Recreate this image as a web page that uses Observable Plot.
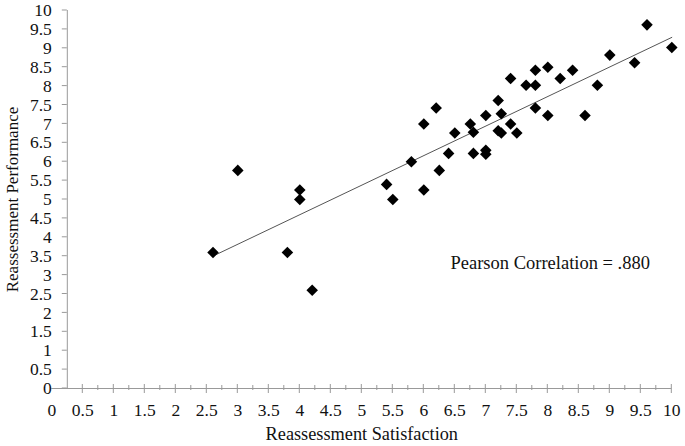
<!DOCTYPE html>
<html>
<head>
<meta charset="utf-8">
<script src="https://cdn.jsdelivr.net/npm/d3@7"></script>
<script src="https://cdn.jsdelivr.net/npm/@observablehq/plot@0.6"></script>
<style>
  html, body { margin: 0; padding: 0; background: #fff; }
  #chart svg, #chart svg text { font-family: "Liberation Serif", "Times New Roman", Tinos, "DejaVu Serif", serif !important; }
</style>
</head>
<body>
<div id="chart"></div>
<script>
const satisfaction = [2.6, 3.0, 3.8, 4.0, 4.0, 4.2, 5.4, 5.5, 5.8, 6.0, 6.0, 6.2, 6.25, 6.4, 6.5,
  6.75, 6.8, 6.8, 7.0, 7.0, 7.0, 7.2, 7.25, 7.2, 7.25, 7.4, 7.4, 7.5, 7.65, 7.8, 7.8, 7.8,
  8.0, 8.0, 8.2, 8.4, 8.6, 8.8, 9.0, 9.4, 9.6, 10.0];
const performance = [3.6, 5.77, 3.6, 5.25, 5.0, 2.6, 5.4, 5.0, 6.0, 5.25, 7.0, 7.42, 5.77, 6.22, 6.76,
  7.0, 6.78, 6.22, 7.22, 6.3, 6.2, 7.62, 7.27, 6.82, 6.76, 7.0, 8.2, 6.76, 8.02, 8.02, 8.42, 7.42,
  8.5, 7.22, 8.2, 8.42, 7.22, 8.02, 8.82, 8.62, 9.62, 9.02];

const xTickLabels = [0, 0.5, 1, 1.5, 2, 2.5, 3, 3.5, 4, 4.5, 5, 5.5, 6, 6.5, 7, 7.5, 8, 8.5, 9, 9.5, 10];
const xMajorTicks = [0.5, 1, 1.5, 2, 2.5, 3, 3.5, 4, 4.5, 5, 5.5, 6, 6.5, 7, 7.5, 8, 8.5, 9, 9.5, 10];
const xMinorTicks = [0.75, 1.25, 1.75, 2.25, 2.75, 3.25, 3.75, 4.25, 4.75, 5.25, 5.75, 6.25, 6.75, 7.25, 7.75, 8.25, 8.75, 9.25, 9.75];
const yTickLabels = [0, 0.5, 1, 1.5, 2, 2.5, 3, 3.5, 4, 4.5, 5, 5.5, 6, 6.5, 7, 7.5, 8, 8.5, 9, 9.5, 10];
const yAxisAt = 0.25;
const annotation = {text: "Pearson Correlation = .880", x: 6.43, y: 3.33};

const points = satisfaction.map((x, i) => ({x, y: performance[i]}));
const axisColor = "#999";
const textColor = "#111";
const serif = "'Liberation Serif', 'Times New Roman', Tinos, 'DejaVu Serif', serif";

function tickRenderer(orient, before, after) {
  return (index, scales, values) => {
    const g = d3.create("svg:g").attr("stroke", axisColor).attr("stroke-width", 1);
    for (const i of index) {
      if (orient === "y") {
        const yy = values.y[i], xx = scales.x(yAxisAt);
        g.append("line").attr("x1", xx - before).attr("x2", xx + after).attr("y1", yy).attr("y2", yy);
      } else {
        const xx = values.x[i], yy = scales.y(0);
        g.append("line").attr("x1", xx).attr("x2", xx).attr("y1", yy - before).attr("y2", yy + after);
      }
    }
    return g.node();
  };
}

const chart = Plot.plot({
  width: 685,
  height: 446,
  marginLeft: 51.3,
  marginRight: 13.7,
  marginTop: 10,
  marginBottom: 58,
  style: {background: "#fff", fontFamily: serif},
  x: {type: "linear", domain: [0, 10], axis: null},
  y: {type: "linear", domain: [0, 10], axis: null},
  marks: [
    Plot.ruleX([yAxisAt], {y1: 0, y2: 10, stroke: axisColor, strokeWidth: 1}),
    Plot.ruleY([0], {x1: 0, x2: 10, stroke: axisColor, strokeWidth: 1}),
    Plot.tickY(yTickLabels, {y: d => d, render: tickRenderer("y", 5, 0)}),
    Plot.tickX(xMajorTicks, {x: d => d, render: tickRenderer("x", 4, 5)}),
    Plot.tickX(xMinorTicks, {x: d => d, render: tickRenderer("x", 3, 2)}),
    Plot.text(yTickLabels, {x: 0, y: d => d, text: d => String(d), textAnchor: "end", dx: 0, dy: 0, fontSize: 17.5, fontFamily: serif, fill: textColor}),
    Plot.text(xTickLabels, {x: d => d, y: 0, text: d => String(d), dy: 22, fontSize: 17.5, fontFamily: serif, fill: textColor}),
    Plot.text(["Reassessment Satisfaction"], {frameAnchor: "bottom", textAnchor: "middle", dx: 0, dy: 51, fontSize: 18.3, fontFamily: serif, fill: textColor}),
    Plot.text(["Reassessment Performance"], {frameAnchor: "left", textAnchor: "middle", dx: -39, rotate: -90, fontSize: 17, fontFamily: serif, fill: textColor}),
    Plot.linearRegressionY(points, {x: "x", y: "y", ci: 0, stroke: "#555", strokeWidth: 1}),
    Plot.dot(points, {x: "x", y: "y", symbol: "diamond2", r: 5.2, fill: "#000", stroke: null}),
    Plot.text([annotation], {x: "x", y: "y", text: "text", textAnchor: "start", fontSize: 18.5, fontFamily: serif, fill: textColor})
  ]
});
document.getElementById("chart").append(chart);
</script>
</body>
</html>
